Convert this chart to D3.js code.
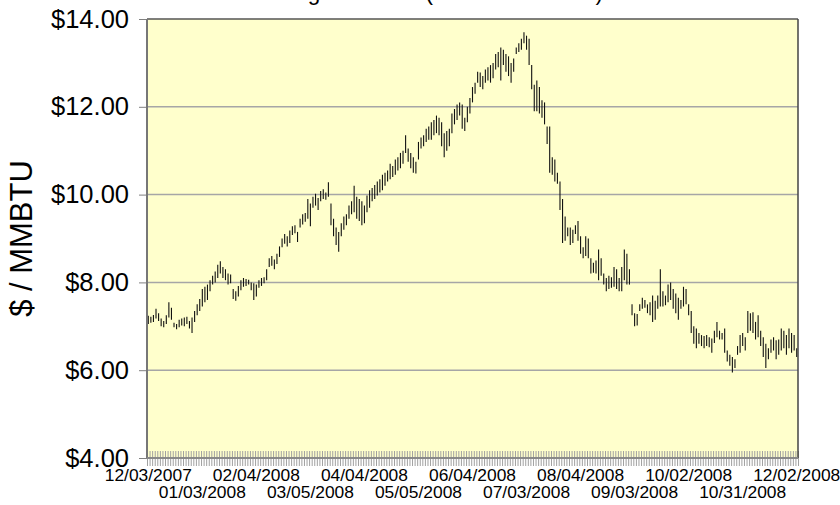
<!DOCTYPE html>
<html>
<head>
<meta charset="utf-8">
<script src="https://cdn.jsdelivr.net/npm/d3@7/dist/d3.min.js"></script>
<style>
  body { margin: 0; background: #fff; }
  text { font-family: Arial, "Liberation Sans", sans-serif; fill: #000; }
</style>
</head>
<body>
<div id="chart"></div>
<script>
// daily high / low, $ per MMBTU, one entry per trading day from 12/03/2007 to 12/02/2008
const highs = [
  7.24, 7.22, 7.26, 7.40, 7.30, 7.18, 7.12, 7.25, 7.55, 7.42,
  7.08, 7.05, 7.15, 7.18, 7.20, 7.22, 7.12, 7.20, 7.35, 7.50,
  7.62, 7.85, 7.90, 7.95, 8.05, 8.15, 8.25, 8.40, 8.48, 8.35,
  8.30, 8.20, 8.18, 7.85, 7.80, 7.92, 8.05, 8.10, 8.08, 8.06,
  8.00, 7.98, 7.95, 8.05, 8.10, 8.12, 8.30, 8.55, 8.60, 8.52,
  8.65, 8.82, 9.00, 9.10, 9.05, 9.18, 9.28, 9.30, 9.15, 9.45,
  9.55, 9.58, 9.90, 9.80, 9.95, 10.02, 9.92, 10.08, 10.12, 10.05,
  10.28, 9.80, 9.45, 9.25, 9.15, 9.35, 9.50, 9.55, 9.75, 9.85,
  10.20, 9.95, 9.90, 9.85, 9.75, 9.98, 10.10, 10.15, 10.22, 10.30,
  10.35, 10.45, 10.50, 10.55, 10.70, 10.65, 10.80, 10.85, 10.95, 11.00,
  11.35, 11.05, 10.95, 10.85, 10.75, 11.20, 11.30, 11.35, 11.50, 11.55,
  11.65, 11.70, 11.80, 11.75, 11.65, 11.40, 11.45, 11.50, 11.85, 11.95,
  12.05, 12.10, 12.05, 11.75, 12.00, 12.20, 12.45, 12.55, 12.80, 12.78,
  12.70, 12.85, 12.90, 12.95, 13.00, 13.20, 13.25, 13.35, 13.30, 13.20,
  13.15, 13.00, 13.10, 13.35, 13.45, 13.55, 13.70, 13.62, 13.55, 12.95,
  12.50, 12.60, 12.45, 12.15, 12.10, 11.55, 11.55, 10.85, 10.80, 10.50,
  10.30, 9.90, 9.50, 9.25, 9.25, 9.20, 9.30, 9.40, 9.05, 8.80,
  9.05, 9.00, 8.55, 8.45, 8.50, 8.75, 8.55, 8.20, 8.10, 8.15,
  8.12, 8.35, 8.30, 8.10, 8.35, 8.75, 8.65, 8.30, 7.50, 7.30,
  7.28, 7.50, 7.65, 7.60, 7.50, 7.55, 7.70, 7.58, 7.70, 8.30,
  7.80, 7.70, 7.95, 8.00, 7.85, 7.75, 7.65, 7.60, 7.90, 7.85,
  7.50, 7.35, 7.00, 6.95, 6.85, 6.80, 6.78, 6.80, 6.75, 6.72,
  6.90, 7.10, 6.90, 6.85, 6.95, 6.45, 6.35, 6.30, 6.25, 6.55,
  6.80, 6.85, 6.75, 7.35, 7.30, 7.32, 7.10, 7.25, 6.90, 6.75,
  6.60, 6.50, 6.70, 6.75, 6.68, 6.70, 6.95, 6.90, 6.80, 6.95,
  6.85, 6.80, 6.50
];
const lows = [
  7.05, 7.08, 7.10, 7.18, 7.12, 7.00, 6.98, 7.05, 7.20, 7.15,
  6.98, 6.93, 6.98, 7.02, 7.00, 7.05, 6.95, 6.85, 7.10, 7.25,
  7.35, 7.45, 7.55, 7.60, 7.80, 7.95, 8.00, 8.10, 8.20, 8.10,
  8.05, 7.95, 7.98, 7.62, 7.58, 7.68, 7.82, 7.90, 7.92, 7.95,
  7.82, 7.60, 7.68, 7.88, 7.92, 7.98, 8.05, 8.35, 8.38, 8.30,
  8.42, 8.58, 8.80, 8.88, 8.82, 8.90, 9.08, 9.12, 8.92, 9.25,
  9.32, 9.38, 9.45, 9.28, 9.70, 9.75, 9.65, 9.85, 9.90, 9.88,
  9.95, 9.30, 9.05, 8.85, 8.70, 9.05, 9.20, 9.30, 9.45, 9.55,
  9.60, 9.45, 9.40, 9.30, 9.35, 9.60, 9.70, 9.85, 9.90, 9.98,
  10.05, 10.10, 10.20, 10.30, 10.35, 10.40, 10.45, 10.55, 10.60, 10.70,
  10.95, 10.75, 10.60, 10.50, 10.48, 10.80, 11.05, 11.10, 11.20, 11.25,
  11.25, 11.35, 11.40, 11.35, 11.10, 10.85, 11.00, 11.10, 11.40, 11.60,
  11.70, 11.80, 11.50, 11.45, 11.65, 11.85, 12.10, 12.30, 12.55, 12.45,
  12.40, 12.55, 12.60, 12.55, 12.65, 12.85, 12.90, 12.60, 12.95, 12.80,
  12.70, 12.55, 12.80, 13.20, 13.25, 13.30, 13.45, 13.30, 12.95, 12.40,
  11.90, 11.90, 11.85, 11.75, 11.60, 11.15, 10.50, 10.45, 10.30, 10.25,
  9.65, 8.90, 8.95, 9.05, 8.85, 8.90, 9.10, 8.95, 8.65, 8.55,
  8.60, 8.55, 8.20, 8.22, 8.20, 8.05, 8.15, 7.95, 7.80, 7.85,
  7.88, 7.90, 7.85, 7.80, 7.80, 8.05, 7.95, 7.95, 7.25, 7.00,
  7.02, 7.35, 7.40, 7.42, 7.30, 7.25, 7.10, 7.15, 7.40, 7.45,
  7.45, 7.48, 7.55, 7.60, 7.40, 7.30, 7.15, 7.40, 7.45, 7.50,
  7.25, 6.85, 6.60, 6.50, 6.60, 6.55, 6.50, 6.55, 6.52, 6.40,
  6.62, 6.75, 6.70, 6.70, 6.40, 6.20, 6.10, 5.95, 6.05, 6.35,
  6.40, 6.55, 6.45, 6.85, 6.90, 6.85, 6.70, 6.75, 6.55, 6.30,
  6.05, 6.25, 6.40, 6.45, 6.25, 6.35, 6.45, 6.50, 6.35, 6.50,
  6.40, 6.45, 6.30
];
// date labels shown under every 21st trading day
const tickLabels = [
  "12/03/2007", "01/03/2008", "02/04/2008", "03/05/2008", "04/04/2008",
  "05/05/2008", "06/04/2008", "07/03/2008", "08/04/2008", "09/03/2008",
  "10/02/2008", "10/31/2008", "12/02/2008"
];
const labelEvery = 21;
const yTicks = [4, 6, 8, 10, 12, 14];
const chartTitle = "Natural gas futures (Dec 07 - Dec 08)";
const yTitle = "$ / MMBTU";

// layout
const width = 840, height = 505;
const plot = { left: 147, right: 798, top: 19, bottom: 458 };

const svg = d3.select("#chart").append("svg")
  .attr("width", width)
  .attr("height", height);

const days = d3.range(highs.length);

const x = d3.scaleBand()
  .domain(days)
  .range([plot.left, plot.right])
  .padding(0);

// boundaries between trading days, for the tick marks
const xEdge = d3.scaleLinear()
  .domain([0, days.length])
  .range([plot.left, plot.right]);

const y = d3.scaleLinear()
  .domain([4, 14])
  .range([plot.bottom, plot.top]);

// plot background
svg.append("rect")
  .attr("x", plot.left)
  .attr("y", plot.top)
  .attr("width", plot.right - plot.left)
  .attr("height", plot.bottom - plot.top)
  .attr("fill", "#ffffcc");

// horizontal gridlines
svg.append("g")
  .selectAll("line")
  .data(yTicks.filter(d => d > 4 && d < 14))
  .enter().append("line")
    .attr("x1", plot.left)
    .attr("x2", plot.right)
    .attr("y1", d => y(d))
    .attr("y2", d => y(d))
    .attr("stroke", "#a6a6a6")
    .attr("stroke-width", 1.5);

// dense tick marks crossing the category axis
const xTicks = svg.append("g")
  .attr("transform", `translate(0,${plot.bottom})`)
  .call(d3.axisBottom(xEdge)
    .tickValues(d3.range(days.length + 1))
    .tickSize(8)
    .tickFormat(""));
xTicks.select(".domain").remove();
xTicks.selectAll(".tick line")
  .attr("y1", -7)
  .attr("y2", 8)
  .attr("stroke", "#a0a0a0")
  .attr("stroke-width", 1);

// date labels, alternating on two rows
const xLabels = svg.append("g")
  .attr("transform", `translate(0,${plot.bottom})`)
  .call(d3.axisBottom(x)
    .tickValues(days.filter(d => d % labelEvery === 0))
    .tickSize(0)
    .tickFormat(d => tickLabels[d / labelEvery]));
xLabels.select(".domain").remove();
xLabels.selectAll(".tick text")
  .attr("y", (d, i) => i % 2 === 0 ? 11 : 28)
  .attr("dy", "0.71em")
  .style("font-size", "17.4px")
  .style("font-family", "Arial, 'Liberation Sans', sans-serif");

// y axis with dollar labels
const yAxis = svg.append("g")
  .attr("transform", `translate(${plot.left},0)`)
  .call(d3.axisLeft(y)
    .tickValues(yTicks)
    .tickSize(8)
    .tickPadding(10)
    .tickFormat(d => "$" + d3.format(".2f")(d)));
yAxis.select(".domain").remove();
yAxis.selectAll(".tick line")
  .attr("stroke", "#808080");
yAxis.selectAll(".tick text")
  .style("font-size", "25.5px")
  .style("font-family", "Arial, 'Liberation Sans', sans-serif");

// high-low bars
svg.append("g")
  .selectAll("line")
  .data(days)
  .enter().append("line")
    .attr("x1", d => x(d) + x.bandwidth() / 2)
    .attr("x2", d => x(d) + x.bandwidth() / 2)
    .attr("y1", d => y(highs[d]))
    .attr("y2", d => y(lows[d]))
    .attr("stroke", "#111")
    .attr("stroke-width", 1.1);

// plot frame: top and right border, left and bottom axis lines
svg.append("line")
  .attr("x1", plot.left).attr("x2", plot.right)
  .attr("y1", plot.top).attr("y2", plot.top)
  .attr("stroke", "#555").attr("stroke-width", 1.5);
svg.append("line")
  .attr("x1", plot.right).attr("x2", plot.right)
  .attr("y1", plot.top).attr("y2", plot.bottom)
  .attr("stroke", "#444").attr("stroke-width", 1.5);
svg.append("line")
  .attr("x1", plot.left).attr("x2", plot.left)
  .attr("y1", plot.top).attr("y2", plot.bottom)
  .attr("stroke", "#777").attr("stroke-width", 2);
svg.append("line")
  .attr("x1", plot.left).attr("x2", plot.right)
  .attr("y1", plot.bottom).attr("y2", plot.bottom)
  .attr("stroke", "#888").attr("stroke-width", 2);

// title, mostly cut off by the top edge as in the source picture
svg.append("text")
  .attr("x", 416)
  .attr("y", 0)
  .attr("text-anchor", "middle")
  .style("font-size", "22.5px")
  .text(chartTitle);

// y axis title
svg.append("text")
  .attr("transform", `translate(32,${(plot.top + plot.bottom) / 2}) rotate(-90)`)
  .attr("text-anchor", "middle")
  .style("font-size", "31px")
  .text(yTitle);
</script>
</body>
</html>
